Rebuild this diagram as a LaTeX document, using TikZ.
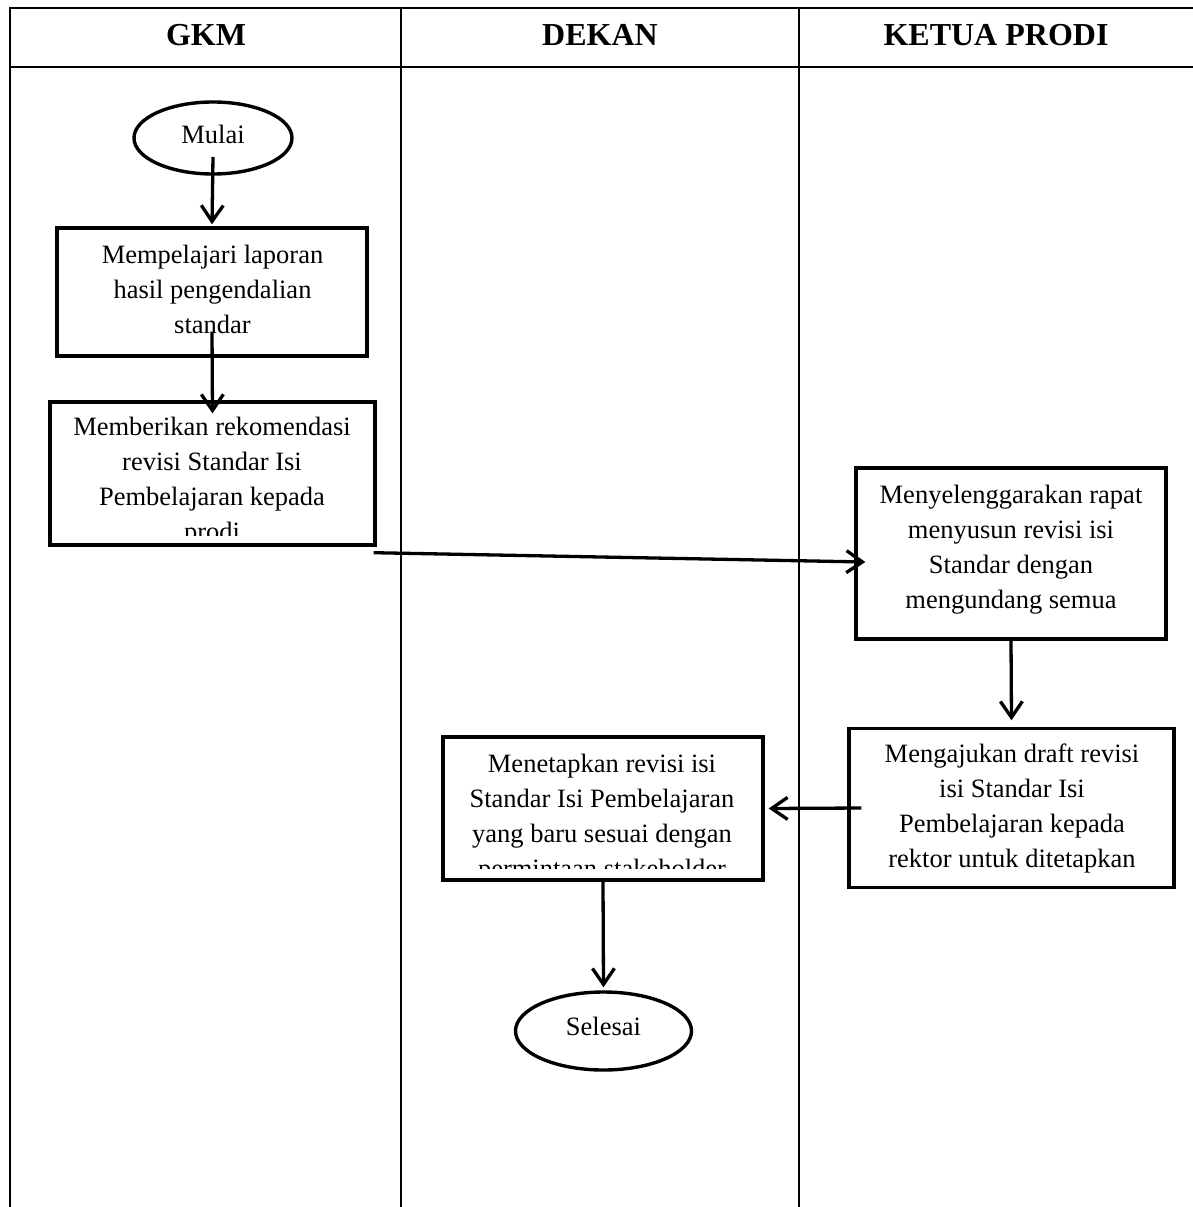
\documentclass[tikz,border=0pt]{standalone}
\usepackage{fontspec}
\setmainfont{Liberation Serif}
\usetikzlibrary{shapes.geometric,arrows.meta}
\begin{document}
\begin{tikzpicture}[x=1pt,y=-1pt,
  tbl/.style={line width=2.2pt},
  box/.style={draw,line width=3.4pt,rectangle,inner sep=0},
  term/.style={draw,line width=3.4pt,ellipse,inner sep=0,font=\fontsize{26.5}{32}\selectfont},
  txt/.style={anchor=north,inner sep=0,align=center,font=\fontsize{26.5}{35}\selectfont},
  hdr/.style={anchor=base,inner sep=0,font=\fontsize{32}{38}\selectfont\bfseries},
  arr/.style={line width=3.3pt,-{Straight Barb[length=16pt,width=22pt]}}]
\useasboundingbox (0,0) rectangle (1192,1207);
\fill[white] (0,0) rectangle (1192,1207);
% table
\draw[line width=2.8pt] (9,8) -- (1195,8);
\draw[line width=2.5pt] (9,67) -- (1195,67);
\draw[tbl] (10,7) -- (10,1210);
\draw[tbl] (401,8) -- (401,1210);
\draw[tbl] (799,8) -- (799,1210);
% headers
\node[hdr] (hgkm) at (206,46) {GKM};
\node[hdr] (hdekan) at (600,46) {DEKAN};
\node[hdr] (hkp) at (996,46) {KETUA PRODI};
% terminals
\node[term,minimum width=158pt,minimum height=72pt,text height=15pt,text depth=5pt] (mulai) at (213,138) {Mulai};
\node[term,minimum width=176pt,minimum height=78pt,text height=14pt,text depth=6pt] (sel) at (603.5,1031) {Selesai};
% boxes
\node[box,minimum width=310pt,minimum height=128pt] (b1) at (212,292) {};
\node[txt] (t1) at (212.5,243) {\rule{0pt}{20pt}Mempelajari laporan\\hasil pengendalian\\standar};
\node[box,minimum width=325pt,minimum height=143pt] (b2) at (212.5,473.5) {};
\begin{scope}
\clip (50,400) rectangle (376,535);
\node[txt] (t2) at (212,415) {\rule{0pt}{20pt}Memberikan rekomendasi\\revisi Standar Isi\\Pembelajaran kepada\\prodi};
\end{scope}
\node[box,minimum width=310pt,minimum height=171pt] (b3) at (1011,553.5) {};
\node[txt] (t3) at (1011,483) {\rule{0pt}{20pt}Menyelenggarakan rapat\\menyusun revisi isi\\Standar dengan\\mengundang semua};
\node[box,minimum width=325pt,minimum height=159pt] (b4) at (1011.5,808) {};
\node[txt] (t4) at (1012,742) {\rule{0pt}{20pt}Mengajukan draft revisi\\isi Standar Isi\\Pembelajaran kepada\\rektor untuk ditetapkan};
\node[box,minimum width=320pt,minimum height=143pt] (b5) at (603,808.5) {};
\begin{scope}
\clip (443,737) rectangle (763,868);
\node[txt] (t5) at (602,752) {\rule{0pt}{20pt}Menetapkan revisi isi\\Standar Isi Pembelajaran\\yang baru sesuai dengan\\permintaan stakeholder};
\end{scope}
% connectors
\draw[arr] ([yshift=-19pt]mulai.center) -- ([yshift=2pt]b1.north);
\draw[arr] ([yshift=26pt]b1.south) -- ([yshift=-13pt]b2.north);
\draw[arr] ([xshift=-3pt,yshift=-6pt]b2.south east) -- ([xshift=11pt,yshift=-8.5pt]b3.west);
\draw[arr] (b3.south) -- ([yshift=6.5pt]b4.north);
\draw[arr] ([xshift=14pt]b4.west) -- ([xshift=4pt]b5.east);
\draw[arr] (b5.south) -- ([yshift=3pt]sel.north);
\end{tikzpicture}
\end{document}
